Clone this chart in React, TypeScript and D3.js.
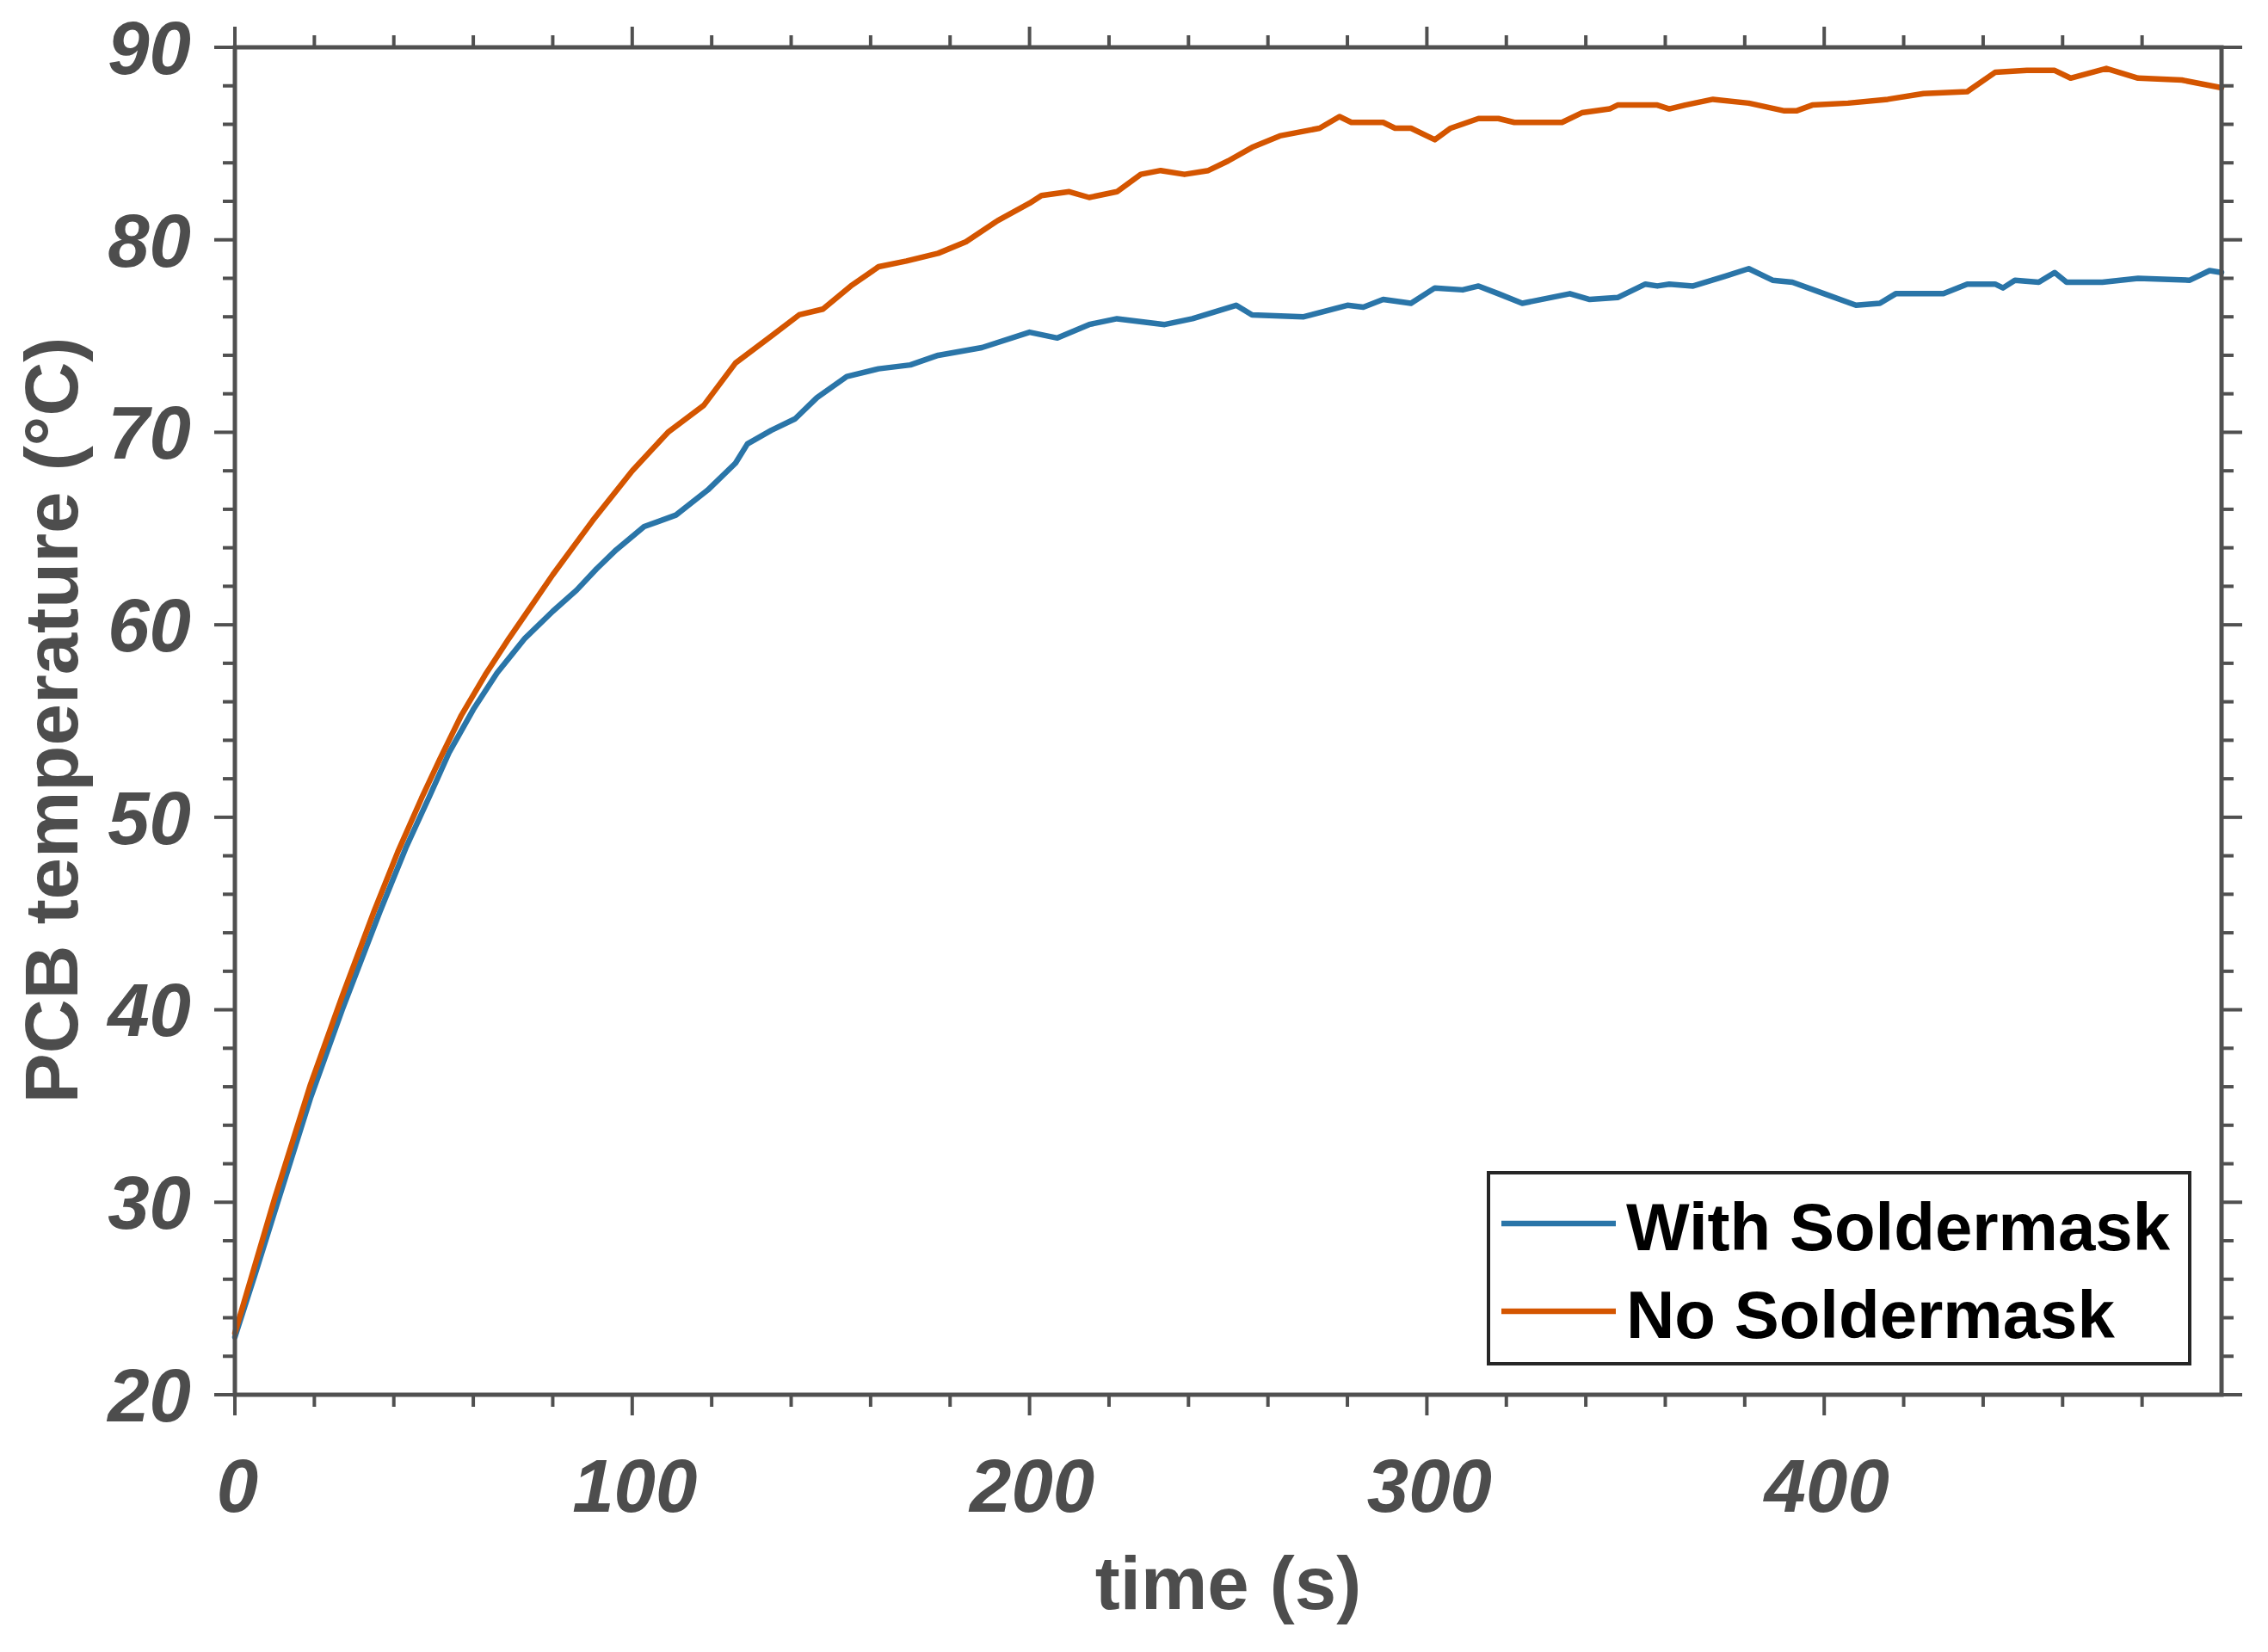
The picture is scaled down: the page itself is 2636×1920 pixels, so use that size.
import React, { useEffect } from "react";
import * as d3 from "d3";

// ---- data ----
const noMaskTime = [0, 5, 10, 19, 27, 35, 41, 47, 52, 57, 63, 69, 75, 80, 85, 90, 95, 100, 109, 118, 126, 135, 142, 148, 155, 162, 169, 177, 184, 192, 200, 203, 210, 215, 222, 228, 233, 239, 245, 250, 256, 263, 273, 278, 281, 289, 292, 296, 302, 306, 313, 318, 322, 334, 339, 346, 348, 355, 358, 361, 365, 372, 381, 390, 393, 397, 406, 416, 425, 436, 443, 451, 458, 462, 471, 479, 490, 500];
const noMaskTemp = [23.2, 26.7, 30.2, 36.1, 40.7, 45.1, 48.2, 51.0, 53.2, 55.3, 57.4, 59.3, 61.1, 62.6, 64.0, 65.4, 66.7, 68.0, 70.0, 71.4, 73.6, 75.0, 76.1, 76.4, 77.6, 78.6, 78.9, 79.3, 79.9, 81.0, 81.9, 82.3, 82.5, 82.2, 82.5, 83.4, 83.6, 83.4, 83.6, 84.1, 84.8, 85.4, 85.8, 86.4, 86.1, 86.1, 85.8, 85.8, 85.2, 85.8, 86.3, 86.3, 86.1, 86.1, 86.6, 86.8, 87.0, 87.0, 87.0, 86.8, 87.0, 87.3, 87.1, 86.7, 86.7, 87.0, 87.1, 87.3, 87.6, 87.7, 88.7, 88.8, 88.8, 88.4, 88.9, 88.4, 88.3, 87.9];

const withMaskTime = [0, 5, 10, 19, 27, 36.5, 43, 49, 54, 60, 66, 73, 80, 86, 91, 96, 103, 111, 119, 126, 129, 135, 141, 146.5, 154, 162, 170, 177, 188, 200, 207, 215, 222, 234, 241, 252, 256, 269, 280, 284, 289, 296, 302, 309, 313, 318, 324, 336, 341, 348, 355, 358, 361, 367, 375, 381, 387, 392, 400, 408, 414, 418, 430, 436, 443, 445, 448, 454, 458, 461, 470, 479, 492, 497, 500];
const withMaskTemp = [23.0, 26.2, 29.5, 35.4, 40.0, 45.1, 48.4, 51.1, 53.4, 55.6, 57.5, 59.3, 60.7, 61.8, 62.9, 63.9, 65.1, 65.7, 67.0, 68.4, 69.4, 70.1, 70.7, 71.8, 72.9, 73.3, 73.5, 74.0, 74.4, 75.2, 74.9, 75.6, 75.9, 75.6, 75.9, 76.6, 76.1, 76.0, 76.6, 76.5, 76.9, 76.7, 77.5, 77.4, 77.6, 77.2, 76.7, 77.2, 76.9, 77.0, 77.7, 77.6, 77.7, 77.6, 78.1, 78.5, 77.9, 77.8, 77.2, 76.6, 76.7, 77.2, 77.2, 77.7, 77.7, 77.5, 77.9, 77.8, 78.3, 77.8, 77.8, 78.0, 77.9, 78.4, 78.3];

const seriesNames = ["With Soldermask", "No Soldermask"];
const seriesColors = ["#2a75a8", "#d45500"];

const xMajorTicks = [0, 100, 200, 300, 400];
const xMinorTicks = [20, 40, 60, 80, 120, 140, 160, 180, 220, 240, 260, 280, 320, 340, 360, 380, 420, 440, 460, 480];
const yMajorTicks = [20, 30, 40, 50, 60, 70, 80, 90];
const yMinorTicks = [22, 24, 26, 28, 32, 34, 36, 38, 42, 44, 46, 48, 52, 54, 56, 58, 62, 64, 66, 68, 72, 74, 76, 78, 82, 84, 86, 88];

const xTitle = "time (s)";
const yTitle = "PCB temperature (°C)";

// ---- layout ----
const W = 2636;
const H = 1920;
const L = 273, R = 2582, T = 55, B = 1621;
const AX = "#505050";
const FONT = "'Liberation Sans', Arial, Helvetica, sans-serif";

export default function App() {
  useEffect(() => {
    document.body.style.margin = "0";
  }, []);

  const x = d3.scaleLinear().domain([0, 500]).range([L, R]);
  const y = d3.scaleLinear().domain([20, 90]).range([B, T]);

  const line = d3
    .line<[number, number]>()
    .x((d) => x(d[0]))
    .y((d) => y(d[1]))
    .curve(d3.curveLinear);

  const withPts = withMaskTime.map((t, i) => [t, withMaskTemp[i]] as [number, number]);
  const noPts = noMaskTime.map((t, i) => [t, noMaskTemp[i]] as [number, number]);

  const minorLen = 14;
  const majorLen = 24;

  return (
    <svg
      width={W}
      height={H}
      viewBox={`0 0 ${W} ${H}`}
      style={{ display: "block", position: "absolute", left: 0, top: 0, background: "#fff" }}
    >
      <rect x={0} y={0} width={W} height={H} fill="#fff" />

      {/* data lines */}
      <g fill="none" strokeWidth={6.5} strokeLinejoin="round" strokeLinecap="round">
        <path d={line(withPts) || ""} stroke={seriesColors[0]} />
        <path d={line(noPts) || ""} stroke={seriesColors[1]} />
      </g>

      {/* ticks */}
      <g stroke={AX} strokeWidth={4}>
        {xMinorTicks.map((t) => (
          <g key={"xm" + t}>
            <line x1={x(t)} x2={x(t)} y1={B} y2={B + minorLen} />
            <line x1={x(t)} x2={x(t)} y1={T} y2={T - minorLen} />
          </g>
        ))}
        {xMajorTicks.map((t) => (
          <g key={"xM" + t}>
            <line x1={x(t)} x2={x(t)} y1={B} y2={B + majorLen} />
            <line x1={x(t)} x2={x(t)} y1={T} y2={T - majorLen} />
          </g>
        ))}
        {yMinorTicks.map((v) => (
          <g key={"ym" + v}>
            <line x1={L} x2={L - minorLen} y1={y(v)} y2={y(v)} />
            <line x1={R} x2={R + minorLen} y1={y(v)} y2={y(v)} />
          </g>
        ))}
        {yMajorTicks.map((v) => (
          <g key={"yM" + v}>
            <line x1={L} x2={L - majorLen} y1={y(v)} y2={y(v)} />
            <line x1={R} x2={R + majorLen} y1={y(v)} y2={y(v)} />
          </g>
        ))}
      </g>

      {/* axes box */}
      <rect x={L} y={T} width={R - L} height={B - T} fill="none" stroke={AX} strokeWidth={5} />

      {/* tick labels */}
      <g fill="#4d4d4d" fontFamily={FONT} fontWeight="bold" fontStyle="italic" fontSize={87}>
        {yMajorTicks.map((v) => (
          <text key={"yl" + v} x={222} y={y(v)} dy="0.355em" textAnchor="end">
            {v}
          </text>
        ))}
        {xMajorTicks.map((t) => (
          <text key={"xl" + t} x={x(t) + 3} y={1757} textAnchor="middle">
            {t}
          </text>
        ))}
      </g>

      {/* axis titles */}
      <text
        x={(L + R) / 2}
        y={1870}
        textAnchor="middle"
        fill="#4d4d4d"
        fontFamily={FONT}
        fontWeight="bold"
        fontSize={87}
      >
        {xTitle}
      </text>
      <text
        transform={`translate(90, 837) rotate(-90)`}
        textAnchor="middle"
        fill="#4d4d4d"
        fontFamily={FONT}
        fontWeight="bold"
        fontSize={87}
      >
        {yTitle}
      </text>

      {/* legend */}
      <g>
        <rect x={1730} y={1363} width={815} height={222} fill="#fff" stroke="#262626" strokeWidth={4} />
        {seriesNames.map((name, i) => {
          const ly = 1422 + i * 102;
          return (
            <g key={name}>
              <line x1={1745} x2={1878} y1={ly} y2={ly} stroke={seriesColors[i]} strokeWidth={6.5} />
              <text
                x={1890}
                y={ly + 31}
                fill="#000"
                fontFamily={FONT}
                fontWeight="bold"
                fontSize={78}
              >
                {name}
              </text>
            </g>
          );
        })}
      </g>
    </svg>
  );
}
